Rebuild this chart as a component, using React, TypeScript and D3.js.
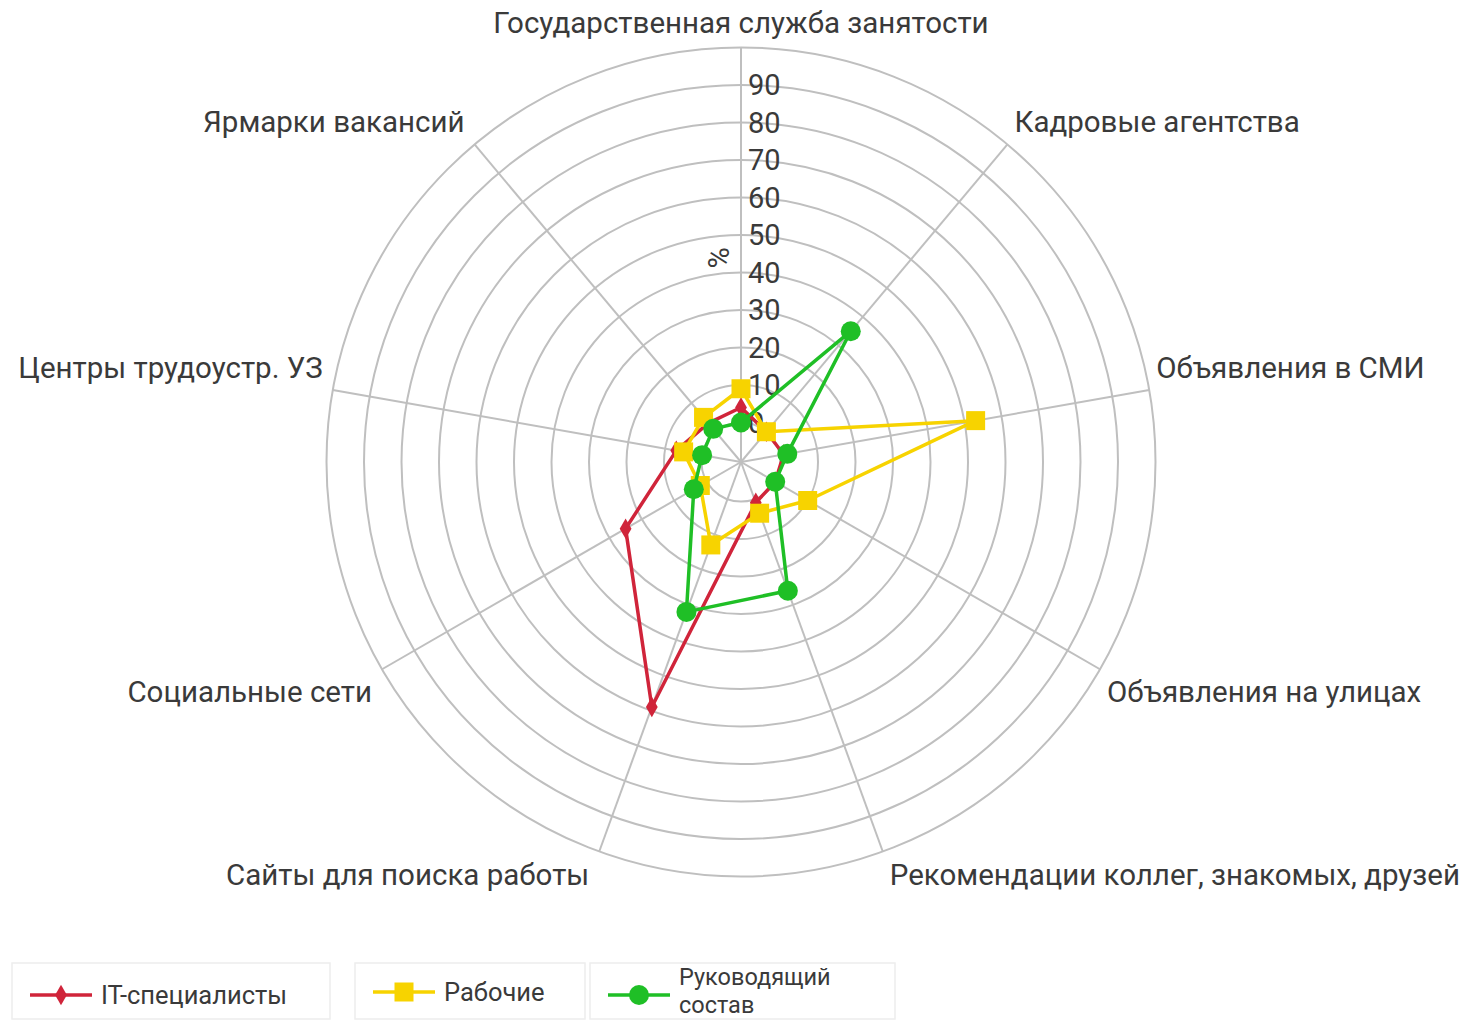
import React, { useEffect, useRef } from "react";
import * as d3 from "d3";

const categories = [
  "Государственная служба занятости",
  "Кадровые агентства",
  "Объявления в СМИ",
  "Объявления на улицах",
  "Рекомендации коллег, знакомых, друзей",
  "Сайты для поиска работы",
  "Социальные сети",
  "Центры трудоустр. УЗ",
  "Ярмарки вакансий",
];

const itValues = [4, 0, 1, 0, 1, 59, 25, 7, 3];
const workerValues = [9, 0, 53, 10, 4, 13, 2, 5, 5];
const managerValues = [0, 35, 2, 0, 26, 32, 4, 0, 1];

const ringValues = [0, 10, 20, 30, 40, 50, 60, 70, 80, 90, 100];
const tickLabels = [0, 10, 20, 30, 40, 50, 60, 70, 80, 90];

const series = [
  { name: "IT-специалисты", values: itValues, color: "#d0243a", marker: "diamond" },
  { name: "Рабочие", values: workerValues, color: "#f7d300", marker: "square" },
  { name: "Руководящий состав", values: managerValues, color: "#1fbf26", marker: "circle" },
];

const FONT = "Roboto, 'Noto Sans', sans-serif";

export default function App() {
  const ref = useRef<SVGSVGElement>(null);

  useEffect(() => {
    const svg = d3.select(ref.current);
    svg.selectAll("*").remove();

    const cx = 741;
    const cy = 462;
    const r = d3.scaleLinear().domain([0, 100]).range([39.5, 414.5]);
    const angle = d3
      .scaleLinear()
      .domain([0, categories.length])
      .range([0, 2 * Math.PI]);

    const g = svg.append("g").attr("transform", `translate(${cx},${cy})`);

    // rings
    g.selectAll("circle.ring")
      .data(ringValues)
      .join("circle")
      .attr("class", "ring")
      .attr("r", (d) => r(d))
      .attr("fill", "none")
      .attr("stroke", "#bfbfbf")
      .attr("stroke-width", 2);

    // spokes
    g.selectAll("line.spoke")
      .data(categories)
      .join("line")
      .attr("class", "spoke")
      .attr("x1", 0)
      .attr("y1", 0)
      .attr("x2", (d, i) => r(100) * Math.sin(angle(i)))
      .attr("y2", (d, i) => -r(100) * Math.cos(angle(i)))
      .attr("stroke", "#bfbfbf")
      .attr("stroke-width", 2);

    // tick labels
    g.selectAll("text.tick")
      .data(tickLabels)
      .join("text")
      .attr("class", "tick")
      .attr("x", 7)
      .attr("y", (d) => -r(d))
      .attr("dominant-baseline", "central")
      .style("font-family", FONT)
      .style("font-size", "29px")
      .style("fill", "#3a3a3a")
      .text((d) => d);

    g.append("text")
      .attr("transform", `translate(-22,${-r(45) + 4}) rotate(-90)`)
      .attr("text-anchor", "middle")
      .attr("dominant-baseline", "central")
      .style("font-family", FONT)
      .style("font-size", "29px")
      .style("fill", "#3a3a3a")
      .text("%");

    // category labels
    g.selectAll("text.cat")
      .data(categories)
      .join("text")
      .attr("class", "cat")
      .attr("x", (d, i) => {
        const s = Math.sin(angle(i));
        const x = r(100) * s;
        if (Math.abs(s) < 0.01) return x;
        return x + (s > 0 ? 7 : -10);
      })
      .attr("y", (d, i) => {
        const c = Math.cos(angle(i));
        const y = -r(100) * c;
        if (c > 0.99) return y - 25;
        return y + (c > 0 ? -22 : 23);
      })
      .attr("text-anchor", (d, i) => {
        const s = Math.sin(angle(i));
        if (Math.abs(s) < 0.01) return "middle";
        return s > 0 ? "start" : "end";
      })
      .attr("dominant-baseline", "central")
      .style("font-family", FONT)
      .style("font-size", "29.5px")
      .style("fill", "#3a3a3a")
      .text((d) => d);

    const point = (v: number, i: number): [number, number] => [
      r(v) * Math.sin(angle(i)),
      -r(v) * Math.cos(angle(i)),
    ];

    const line = d3.line<[number, number]>().curve(d3.curveLinearClosed);

    const drawMarker = (sel: any, type: string, color: string) => {
      if (type === "circle") {
        sel.append("circle").attr("r", 10).attr("fill", color);
      } else if (type === "square") {
        sel
          .append("rect")
          .attr("x", -9.5)
          .attr("y", -9.5)
          .attr("width", 19)
          .attr("height", 19)
          .attr("fill", color);
      } else {
        sel
          .append("path")
          .attr("d", d3.symbol(d3.symbolDiamond, 120)())
          .attr("fill", color);
      }
    };

    series.forEach((s) => {
      const pts = s.values.map((v, i) => point(v, i));
      g.append("path")
        .attr("d", line(pts))
        .attr("fill", "none")
        .attr("stroke", s.color)
        .attr("stroke-width", 3.5)
        .attr("stroke-linejoin", "round");
      pts.forEach((p) => {
        const m = g.append("g").attr("transform", `translate(${p[0]},${p[1]})`);
        drawMarker(m, s.marker, s.color);
      });
    });

    // legend
    const legendBoxes = [
      { x: 12, w: 318 },
      { x: 355, w: 230 },
      { x: 590, w: 305 },
    ];
    const legend = svg.append("g");
    series.forEach((s, i) => {
      const b = legendBoxes[i];
      const item = legend.append("g").attr("transform", `translate(${b.x},963)`);
      item
        .append("rect")
        .attr("width", b.w)
        .attr("height", 56)
        .attr("fill", "none")
        .attr("stroke", "#ededed")
        .attr("stroke-width", 1.5);
      const ly = i === 1 ? 29 : 32;
      item
        .append("line")
        .attr("x1", 18)
        .attr("x2", 80)
        .attr("y1", ly)
        .attr("y2", ly)
        .attr("stroke", s.color)
        .attr("stroke-width", 3.5);
      const m = item.append("g").attr("transform", `translate(49,${ly})`);
      drawMarker(m, s.marker, s.color);
      const words = i === 2 ? ["Руководящий", "состав"] : [s.name];
      item
        .selectAll("text")
        .data(words)
        .join("text")
        .attr("x", 89)
        .attr("y", (d, k) => (words.length > 1 ? 14 + k * 28 : ly))
        .attr("dominant-baseline", "central")
        .style("font-family", FONT)
        .style("font-size", words.length > 1 ? "23.5px" : "25.5px")
        .style("fill", "#3a3a3a")
        .text((d) => d);
    });
  }, []);

  return (
    <svg
      ref={ref}
      width={1474}
      height={1020}
      style={{ position: "absolute", left: 0, top: 0, background: "#fff" }}
    />
  );
}
